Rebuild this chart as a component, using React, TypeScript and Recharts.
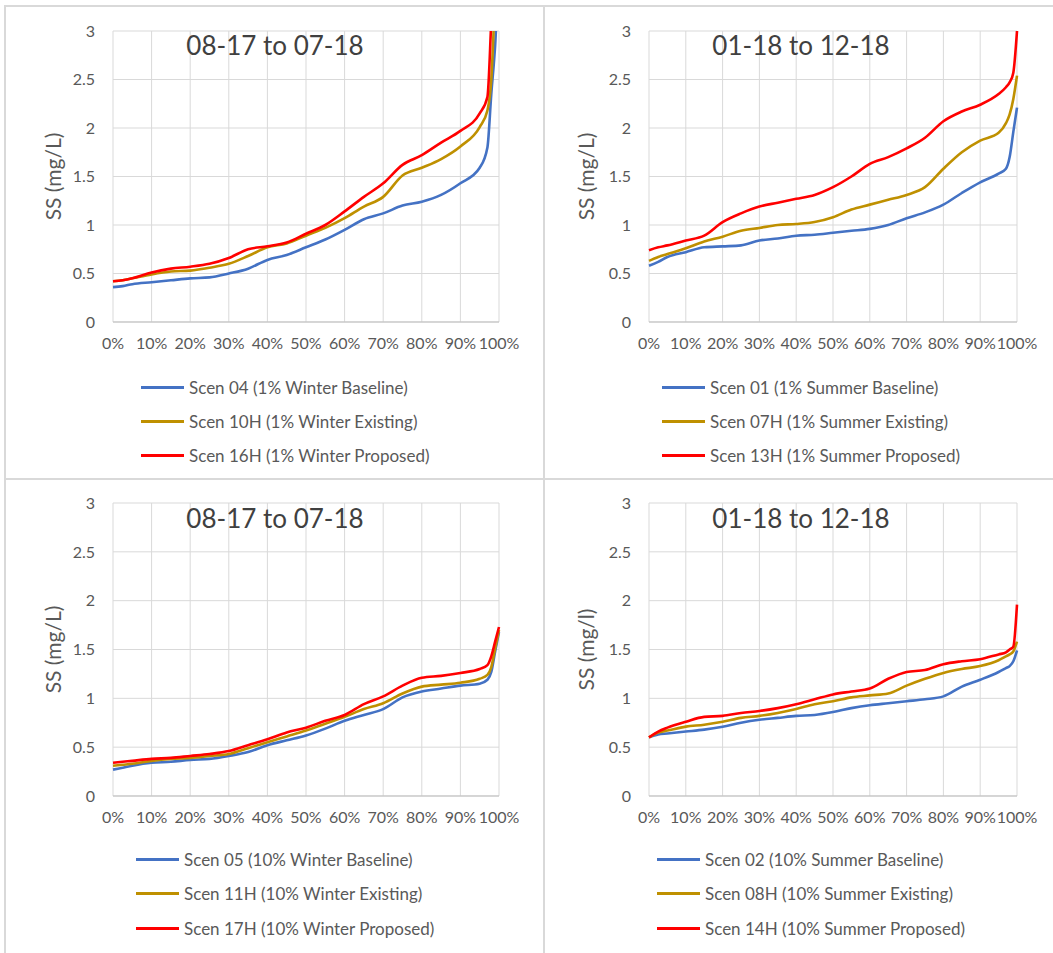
import React from 'react'
import { LineChart, Line, XAxis, YAxis, CartesianGrid, Legend } from 'recharts'

// exceedance percentile (x axis)
const PCT = [0, 2.5, 5, 10, 15, 20, 25, 30, 35, 40, 45, 50, 55, 60, 65, 70, 75, 80, 85, 90, 95, 97, 98, 99, 100]
const X_TICKS = [0, 10, 20, 30, 40, 50, 60, 70, 80, 90, 100]
const Y_TICKS = [0, 0.5, 1, 1.5, 2, 2.5, 3]

// 08-17 to 07-18, 1% winter
const scen04 = [0.36, 0.37, 0.39, 0.41, 0.43, 0.45, 0.46, 0.5, 0.55, 0.64, 0.69, 0.77, 0.85, 0.95, 1.06, 1.12, 1.2, 1.24, 1.31, 1.43, 1.59, 1.8, 2.35, 2.85, 3.6]
const scen10H = [0.42, 0.43, 0.45, 0.49, 0.52, 0.53, 0.56, 0.6, 0.68, 0.77, 0.81, 0.89, 0.97, 1.07, 1.19, 1.29, 1.51, 1.59, 1.68, 1.81, 2.01, 2.18, 2.5, 3.4, 4.5]
const scen16H = [0.42, 0.43, 0.45, 0.51, 0.55, 0.57, 0.6, 0.66, 0.75, 0.78, 0.82, 0.91, 1.0, 1.14, 1.29, 1.43, 1.62, 1.72, 1.85, 1.97, 2.15, 2.32, 3.1, 4.0, 5.0]

// 01-18 to 12-18, 1% summer
const scen01 = [0.58, 0.62, 0.67, 0.72, 0.77, 0.78, 0.79, 0.84, 0.86, 0.89, 0.9, 0.92, 0.94, 0.96, 1.0, 1.07, 1.13, 1.21, 1.33, 1.44, 1.53, 1.58, 1.7, 1.96, 2.21]
const scen07H = [0.63, 0.67, 0.7, 0.76, 0.83, 0.88, 0.94, 0.97, 1.0, 1.01, 1.03, 1.08, 1.16, 1.21, 1.26, 1.31, 1.39, 1.58, 1.75, 1.87, 1.95, 2.05, 2.14, 2.3, 2.54]
const scen13H = [0.74, 0.77, 0.79, 0.84, 0.89, 1.03, 1.12, 1.19, 1.23, 1.27, 1.31, 1.39, 1.5, 1.63, 1.7, 1.79, 1.9, 2.07, 2.17, 2.24, 2.35, 2.42, 2.47, 2.57, 3.0]

// 08-17 to 07-18, 10% winter
const scen05 = [0.27, 0.29, 0.31, 0.34, 0.35, 0.37, 0.38, 0.41, 0.45, 0.52, 0.57, 0.62, 0.69, 0.77, 0.83, 0.89, 1.01, 1.07, 1.1, 1.13, 1.15, 1.19, 1.27, 1.48, 1.68]
const scen11H = [0.31, 0.32, 0.33, 0.36, 0.38, 0.39, 0.41, 0.43, 0.49, 0.55, 0.61, 0.67, 0.74, 0.81, 0.89, 0.95, 1.05, 1.12, 1.14, 1.16, 1.2, 1.24, 1.32, 1.51, 1.7]
const scen17H = [0.34, 0.35, 0.36, 0.38, 0.39, 0.41, 0.43, 0.46, 0.52, 0.58, 0.65, 0.7, 0.77, 0.83, 0.94, 1.02, 1.13, 1.21, 1.23, 1.26, 1.3, 1.34, 1.43, 1.58, 1.73]

// 01-18 to 12-18, 10% summer
const scen02 = [0.6, 0.63, 0.64, 0.66, 0.68, 0.71, 0.75, 0.78, 0.8, 0.82, 0.83, 0.86, 0.9, 0.93, 0.95, 0.97, 0.99, 1.02, 1.12, 1.19, 1.27, 1.31, 1.33, 1.38, 1.49]
const scen08H = [0.6, 0.65, 0.67, 0.71, 0.73, 0.76, 0.8, 0.82, 0.85, 0.89, 0.94, 0.97, 1.01, 1.03, 1.05, 1.13, 1.2, 1.26, 1.3, 1.33, 1.39, 1.43, 1.45, 1.48, 1.58]
const scen14H = [0.6, 0.66, 0.7, 0.76, 0.81, 0.82, 0.85, 0.87, 0.9, 0.94, 0.99, 1.04, 1.07, 1.1, 1.2, 1.27, 1.29, 1.35, 1.38, 1.4, 1.45, 1.47, 1.5, 1.53, 1.96]

const COLORS = ['#4472C4', '#BF9000', '#FF0000']
const FONT = 'Lato, "Open Sans", sans-serif'
const TEXT = '#595959'
const GRID = '#d9d9d9'

const PANELS = [
  {
    left: 5, top: 7, width: 538, height: 471,
    plot: { left: 108, right: 494, top: 24, bottom: 315 },
    title: '08-17 to 07-18', titleX: 270, titleY: 38,
    yLabel: 'SS (mg/L)', yLabelX: 47,
    legendLeft: 136, legendTop: 363, rowH: 34,
    series: [
      { name: 'Scen 04 (1% Winter Baseline)', values: scen04 },
      { name: 'Scen 10H (1% Winter Existing)', values: scen10H },
      { name: 'Scen 16H (1% Winter Proposed)', values: scen16H },
    ],
  },
  {
    left: 544, top: 7, width: 509, height: 471,
    plot: { left: 105, right: 473, top: 24, bottom: 315 },
    title: '01-18 to 12-18', titleX: 257, titleY: 38,
    yLabel: 'SS (mg/L)', yLabelX: 41,
    legendLeft: 118, legendTop: 363, rowH: 34,
    series: [
      { name: 'Scen 01 (1% Summer Baseline)', values: scen01 },
      { name: 'Scen 07H (1% Summer Existing)', values: scen07H },
      { name: 'Scen 13H (1% Summer Proposed)', values: scen13H },
    ],
  },
  {
    left: 5, top: 480, width: 538, height: 473,
    plot: { left: 108, right: 494, top: 23, bottom: 316 },
    title: '08-17 to 07-18', titleX: 270, titleY: 38,
    yLabel: 'SS (mg/L)', yLabelX: 47,
    legendLeft: 131, legendTop: 362, rowH: 34.5,
    series: [
      { name: 'Scen 05 (10% Winter Baseline)', values: scen05 },
      { name: 'Scen 11H (10% Winter Existing)', values: scen11H },
      { name: 'Scen 17H (10% Winter Proposed)', values: scen17H },
    ],
  },
  {
    left: 544, top: 480, width: 509, height: 473,
    plot: { left: 105, right: 473, top: 23, bottom: 316 },
    title: '01-18 to 12-18', titleX: 257, titleY: 38,
    yLabel: 'SS (mg/l)', yLabelX: 41,
    legendLeft: 113, legendTop: 362, rowH: 34.5,
    series: [
      { name: 'Scen 02 (10% Summer Baseline)', values: scen02 },
      { name: 'Scen 08H (10% Summer Existing)', values: scen08H },
      { name: 'Scen 14H (10% Summer Proposed)', values: scen14H },
    ],
  },
]

type PanelCfg = (typeof PANELS)[number]

function Panel({ cfg }: { cfg: PanelCfg }) {
  const data = PCT.map((p, i) => ({
    p,
    s0: cfg.series[0].values[i],
    s1: cfg.series[1].values[i],
    s2: cfg.series[2].values[i],
  }))
  const yAxisW = 40
  const xAxisH = 30
  const margin = {
    top: cfg.plot.top,
    right: cfg.width - cfg.plot.right,
    bottom: cfg.height - cfg.plot.bottom - xAxisH,
    left: cfg.plot.left - yAxisW,
  }
  const midY = (cfg.plot.top + cfg.plot.bottom) / 2

  const legendContent = () => (
    <div style={{ fontFamily: FONT }}>
      {cfg.series.map((s, i) => (
        <div key={s.name} style={{ display: 'flex', alignItems: 'center', height: cfg.rowH }}>
          <span style={{ display: 'inline-block', width: 43, height: 3, background: COLORS[i], marginRight: 5 }} />
          <span style={{ fontSize: 17, color: TEXT, whiteSpace: 'nowrap' }}>{s.name}</span>
        </div>
      ))}
    </div>
  )

  return (
    <div style={{ position: 'absolute', left: cfg.left, top: cfg.top }}>
      <LineChart width={cfg.width} height={cfg.height} data={data} margin={margin}>
        <CartesianGrid stroke={GRID} strokeWidth={1} />
        <XAxis
          dataKey="p"
          type="number"
          domain={[0, 100]}
          ticks={X_TICKS}
          interval={0}
          height={xAxisH}
          tickFormatter={(v) => `${v}%`}
          tick={{ fill: TEXT, fontSize: 16, fontFamily: FONT }}
          tickLine={false}
          tickMargin={10}
          axisLine={{ stroke: '#bfbfbf' }}
        />
        <YAxis
          type="number"
          domain={[0, 3]}
          ticks={Y_TICKS}
          allowDataOverflow
          width={yAxisW}
          tick={{ fill: TEXT, fontSize: 16, fontFamily: FONT }}
          tickLine={false}
          tickMargin={12}
          axisLine={false}
        />
        {cfg.series.map((s, i) => (
          <Line
            key={s.name}
            dataKey={`s${i}`}
            name={s.name}
            type="monotone"
            stroke={COLORS[i]}
            strokeWidth={2.6}
            dot={false}
            activeDot={false}
            isAnimationActive={false}
          />
        ))}
        <Legend
          layout="vertical"
          align="center"
          verticalAlign="middle"
          content={legendContent}
          wrapperStyle={{ left: cfg.legendLeft, top: cfg.legendTop, width: 'auto' }}
        />
        <text
          x={cfg.titleX}
          y={cfg.titleY}
          textAnchor="middle"
          dominantBaseline="central"
          fill="#404040"
          fontSize={26}
          fontFamily={FONT}
        >
          {cfg.title}
        </text>
        <text
          x={cfg.yLabelX}
          y={midY}
          textAnchor="middle"
          dominantBaseline="central"
          fill={TEXT}
          fontSize={21}
          fontFamily={FONT}
          transform={`rotate(-90 ${cfg.yLabelX} ${midY})`}
        >
          {cfg.yLabel}
        </text>
      </LineChart>
    </div>
  )
}

export default function App() {
  const rule = '#d9d9d9'
  return (
    <div style={{ position: 'absolute', left: 0, top: 0, width: 1053, height: 953, background: '#fff', overflow: 'hidden' }}>
      <div style={{ position: 'absolute', left: 5, top: 5, width: 1048, height: 2, background: rule }} />
      <div style={{ position: 'absolute', left: 4, top: 5, width: 2, height: 948, background: rule }} />
      <div style={{ position: 'absolute', left: 5, top: 478, width: 1048, height: 2, background: rule }} />
      <div style={{ position: 'absolute', left: 543, top: 5, width: 2, height: 948, background: rule }} />
      {PANELS.map((cfg, i) => (
        <Panel key={i} cfg={cfg} />
      ))}
    </div>
  )
}
